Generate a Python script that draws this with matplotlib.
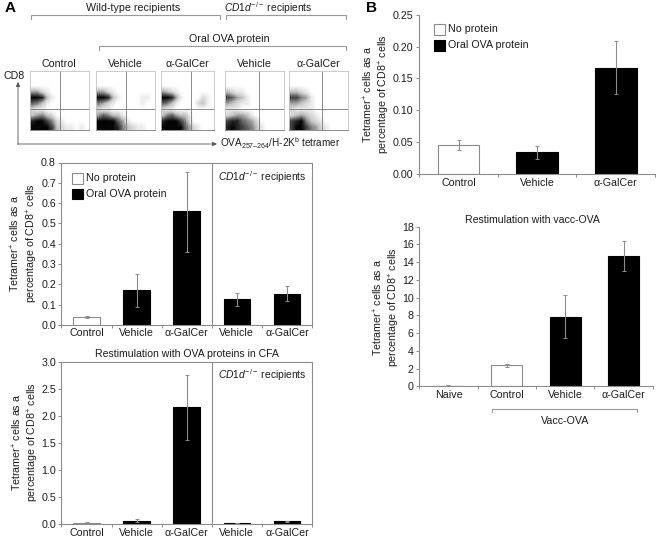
import numpy as np
import matplotlib
matplotlib.use("Agg")
import matplotlib.pyplot as plt
from matplotlib.colors import LinearSegmentedColormap

plt.rcParams['font.family'] = ['Liberation Sans', 'DejaVu Sans']
plt.rcParams['mathtext.fontset'] = 'custom'
plt.rcParams['mathtext.rm'] = 'Liberation Sans'
plt.rcParams['mathtext.it'] = 'Liberation Sans:italic'
plt.rcParams['mathtext.bf'] = 'Liberation Sans:bold'
plt.rcParams['mathtext.default'] = 'regular'

W, H = 661, 539
GRAY = '#8c8c8c'
TXT = '#1c1c1c'
FS = 7.7

# ---- data ----
a1_labels = ['Control', 'Vehicle', 'α-GalCer', 'Vehicle', 'α-GalCer']
a1_values = [0.037, 0.17, 0.56, 0.128, 0.155]
a1_low = [0.033, 0.09, 0.36, 0.095, 0.12]
a1_high = [0.043, 0.25, 0.755, 0.16, 0.19]
a1_ticks = [0.0, 0.1, 0.2, 0.3, 0.4, 0.5, 0.6, 0.7, 0.8]

a2_labels = ['Control', 'Vehicle', 'α-GalCer', 'Vehicle', 'α-GalCer']
a2_values = [0.03, 0.07, 2.16, 0.02, 0.06]
a2_low = [0.02, 0.05, 1.56, 0.015, 0.05]
a2_high = [0.04, 0.09, 2.76, 0.025, 0.07]
a2_ticks = [0.0, 0.5, 1.0, 1.5, 2.0, 2.5, 3.0]

b1_labels = ['Control', 'Vehicle', 'α-GalCer']
b1_values = [0.045, 0.034, 0.167]
b1_low = [0.037, 0.023, 0.126]
b1_high = [0.054, 0.044, 0.208]
b1_ticks = [0.00, 0.05, 0.10, 0.15, 0.20, 0.25]

b2_labels = ['Naive', 'Control', 'Vehicle', 'α-GalCer']
b2_values = [0.08, 2.35, 7.85, 14.65]
b2_low = [0.05, 2.15, 5.5, 12.95]
b2_high = [0.11, 2.55, 10.25, 16.4]
b2_ticks = [0, 2, 4, 6, 8, 10, 12, 14, 16, 18]

# flow-plot darkness (0 white .. 9 black)
flow_control = ['000000000000', '000000000000', '000000000000',
                '442100000000', '998310000000', '653100000000',
                '211000000000', '345320000000', '899752100000', '999973211010']
flow_vehicle = ['000000000000', '000000000000', '000000000000',
                '442100000000', '998310000110', '542100000100',
                '211000000000', '465331000000', '999964100000', '999985321100']
flow_galcer = ['000000000000', '000000000000', '000000000000',
               '432100000000', '998410000210', '653100002310',
               '211000000000', '356433100000', '899975200000', '999996421000']
flow_cd1_veh = ['000000000000', '000000000000', '000000000000',
                '321100000000', '764310000000', '432110000000',
                '111000000000', '234431000000', '788654200000', '898765310000']
flow_cd1_gal = ['000000000000', '000000000000', '000000000000',
                '332100000000', '775410000000', '443210000000',
                '211110000000', '234321000000', '789532100000', '799754210000']

flow_titles = ['Control', 'Vehicle', 'α-GalCer', 'Vehicle', 'α-GalCer']
flow_grids = [flow_control, flow_vehicle, flow_galcer, flow_cd1_veh, flow_cd1_gal]
flow_x = [(30, 88.7, 60), (96, 154.7, 126), (160.7, 213.5, 191),
          (225, 284, 258.5), (288.7, 348, 321.7)]

fig = plt.figure(figsize=(W / 100, H / 100), dpi=100, facecolor='white')


def px_axes(x0, x1, y0, y1):
    return fig.add_axes([x0 / W, 1 - y1 / H, (x1 - x0) / W, (y1 - y0) / H])


ov = fig.add_axes([0, 0, 1, 1], zorder=10)
ov.set_xlim(0, W)
ov.set_ylim(H, 0)
ov.axis('off')
ov.patch.set_alpha(0)


def T(x, y, s, ha='center', va='center', **kw):
    kw.setdefault('fontsize', FS)
    kw.setdefault('color', TXT)
    ov.text(x, y, s, ha=ha, va=va, **kw)


def bracket(x0, x1, y0, y1):
    ov.plot([x0, x0, x1, x1], [y1, y0, y0, y1], color='#999999', lw=0.8,
            solid_joinstyle='miter')


def bars(box, labels, values, low, high, ticks, ymax, fmt, white, boxed=False, divider=False):
    ax = px_axes(*box)
    x = np.arange(len(values)) + 0.5
    colors = ['white' if i in white else 'black' for i in range(len(values))]
    edges = [GRAY if i in white else 'black' for i in range(len(values))]
    ax.bar(x, values, width=0.53, color=colors, edgecolor=edges, linewidth=0.8, zorder=2)
    v = np.array(values)
    ax.errorbar(x, v, yerr=[v - np.array(low), np.array(high) - v], fmt='none',
                ecolor=GRAY, elinewidth=0.8, capsize=1.2, capthick=0.7, zorder=3)
    ax.set_xlim(0, len(values))
    ax.set_ylim(0, ymax)
    ax.set_yticks(ticks)
    ax.set_yticklabels([fmt % t for t in ticks], fontsize=FS, color=TXT)
    ax.set_xticks(np.arange(len(values) + 1))
    ax.set_xticklabels([])
    ax.tick_params(axis='both', length=2, width=0.7, color=GRAY, pad=2)
    for i, lab in enumerate(labels):
        ov.text(box[0] + (box[1] - box[0]) * (i + 0.5) / len(labels), box[3] + 8.5, lab,
                ha='center', va='center', fontsize=FS, color=TXT)
    for s in ax.spines.values():
        s.set_color(GRAY)
        s.set_linewidth(0.8)
    if not boxed:
        ax.spines['top'].set_visible(False)
        ax.spines['right'].set_visible(False)
    if divider:
        ax.axvline(3, color=GRAY, lw=0.8)
    return ax


YL = 'Tetramer$^{+}$ cells as a\npercentage of CD8$^{+}$ cells'
CD1 = r'$\mathit{CD1d}^{-/-}$ recipients'

bars((61.5, 312, 162.5, 325), a1_labels, a1_values, a1_low, a1_high, a1_ticks, 0.8, '%.1f', {0}, True, True)
bars((61.5, 312, 361.7, 524.3), a2_labels, a2_values, a2_low, a2_high, a2_ticks, 3.0, '%.1f', {0}, True, True)
bars((419.3, 655, 14.7, 174), b1_labels, b1_values, b1_low, b1_high, b1_ticks, 0.25, '%.2f', {0})
bars((419.3, 652.7, 226.7, 386.3), b2_labels, b2_values, b2_low, b2_high, b2_ticks, 18, '%d', {1})

T(24.5, 243, YL, rotation=90, linespacing=1.2)
T(26, 442, YL, rotation=90, linespacing=1.2)
T(377, 94, YL, rotation=90, linespacing=1.2)
T(387, 307, YL, rotation=90, linespacing=1.2)

T(262, 177, CD1, fontsize=7.4)
T(262, 375, CD1, fontsize=7.4)
T(187, 354, 'Restimulation with OVA proteins in CFA', fontsize=7.55)
T(532, 220, 'Restimulation with vacc-OVA', fontsize=7.55)


def legend(x, y0, y1, w, h):
    ov.fill([x, x + w, x + w, x], [y0, y0, y0 + h, y0 + h], fc='white', ec=GRAY, lw=0.8)
    ov.fill([x, x + w, x + w, x], [y1, y1, y1 + h, y1 + h], fc='black', ec='black', lw=0.8)
    T(x + w + 4, y0 + h / 2, 'No protein', ha='left')
    T(x + w + 4, y1 + h / 2, 'Oral OVA protein', ha='left')


legend(72, 173, 188.5, 10.5, 10.5)
legend(433.5, 23.5, 39.5, 11, 11)

bracket(492, 637, 409, 412)
T(565, 421, 'Vacc-OVA')

# panel letters
T(5, 8, 'A', ha='left', fontweight='bold', fontsize=11, color='black')
T(366, 8, 'B', ha='left', fontweight='bold', fontsize=11, color='black')

# flow panels
T(133, 8, 'Wild-type recipients')
T(268, 8, CD1, fontsize=7.4)
bracket(31, 220, 15, 19)
bracket(226, 346, 15, 19)
T(229, 39, 'Oral OVA protein')
bracket(99, 346, 46, 50)

cm = LinearSegmentedColormap.from_list('flow', ['white', '#c4c4c4', '#606060', '#050505'])
for (x0, x1, vx), g, title in zip(flow_x, flow_grids, flow_titles):
    ax = px_axes(x0, x1, 71, 130)
    arr = np.array([[int(c) for c in row] for row in g], float)
    ax.imshow(arr, cmap=cm, vmin=0, vmax=9, aspect='auto', interpolation='bilinear',
              extent=(0, 1, 1, 0))
    ax.set_xlim(0, 1)
    ax.set_ylim(1, 0)
    ax.set_xticks([])
    ax.set_yticks([])
    for s in ax.spines.values():
        s.set_color('#c4c4c4')
        s.set_linewidth(0.6)
    ax.spines['bottom'].set_color('#777777')
    ax.axvline((vx - x0) / (x1 - x0), color='#777777', lw=0.6)
    ax.axhline((109 - 71) / 59, color='#777777', lw=0.6)
    T((x0 + x1) / 2, 64, title)

T(14, 76, 'CD8')
ov.annotate('', xy=(18, 82), xytext=(18, 144.5),
            arrowprops=dict(arrowstyle='-|>,head_width=0.12,head_length=0.25', color='#555555', lw=0.6,
                            shrinkA=0, shrinkB=0))
ov.annotate('', xy=(217, 144), xytext=(17.7, 144),
            arrowprops=dict(arrowstyle='-|>,head_width=0.12,head_length=0.25', color='#555555', lw=0.6,
                            shrinkA=0, shrinkB=0))
T(220, 143, 'OVA$_{257–264}$/H-2K$^{b}$ tetramer', ha='left', fontsize=7.2)

fig.savefig('out.png', dpi=100)
